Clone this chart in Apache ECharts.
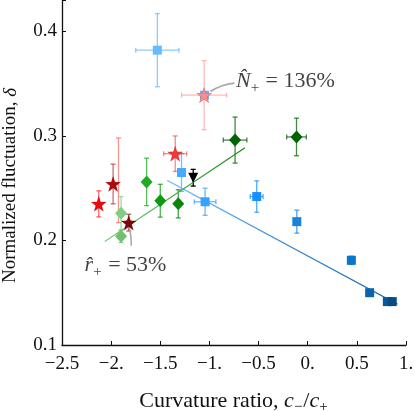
<!DOCTYPE html>
<html>
<head>
<meta charset="utf-8">
<script src="https://cdn.jsdelivr.net/npm/echarts@6/dist/echarts.min.js"></script>
<style>
  html, body { margin: 0; padding: 0; background: #fff; }
  #chart { width: 415px; height: 411px; }
</style>
</head>
<body>
<div id="chart"></div>
<script>
// blue squares
const squareX = [-1.53, -1.05, -1.284, -1.044, -0.519, -0.111, 0.444, 0.63, 0.81, 0.86];
const squareY = [0.382, 0.339, 0.265, 0.237, 0.242, 0.218, 0.181, 0.150, 0.1415, 0.1415];
const squareXErr = [0.22, 0, 0.03, 0.11, 0.065, 0.012, 0.01, 0.01, 0.01, 0.01];
const squareYErr = [0.035, 0, 0.018, 0.013, 0.015, 0.011, 0.004, 0.003, 0.002, 0.002];
// red stars
const starX = [-1.054, -1.348, -2.126, -1.98, -1.821];
const starY = [0.339, 0.283, 0.235, 0.254, 0.217];
const starXErr = [0.23, 0.117, 0, 0, 0.02];
const starYErr = [0.033, 0.017, 0.0125, 0.019, 0.008];
// faint red error bar (marker hidden)
const faintX = [-1.925];
const faintY = [0.2575];
const faintYErr = [0.0405];
// green diamonds
const diamondX = [-0.739, -0.114, -1.639, -1.5, -1.317, -1.899, -1.899];
const diamondY = [0.296, 0.299, 0.256, 0.238, 0.235, 0.226, 0.204];
const diamondXErr = [0.12, 0.1, 0, 0, 0, 0, 0];
const diamondYErr = [0.022, 0.018, 0.0227, 0.0157, 0.0135, 0.016, 0.006];
// black triangle
const triX = [-1.165];
const triY = [0.260];
const triYErr = [0.008];
// fit lines
const blueFitX = [-1.43, 0.914];
const blueFitY = [0.2575, 0.139];
const greenFitX = [-2.065, -0.638];
const greenFitY = [0.199, 0.2886];
// annotation leader lines
const nLeadX = [-0.99, -0.87, -0.745];
const nLeadY = [0.3425, 0.348, 0.3505];
const rLeadX = [-1.815, -1.8, -1.795];
const rLeadY = [0.212, 0.204, 0.195];
// tick labels
const xTickValues = [-2.5, -2, -1.5, -1, -0.5, 0, 0.5, 1];
const xTickLabels = ['\u22122.5', '\u22122.', '\u22121.5', '\u22121.', '\u22120.5', '0.', '0.5', '1.'];
const yTickValues = [0.1, 0.2, 0.3, 0.4];
const yTickLabels = ['0.1', '0.2', '0.3', '0.4'];

const squareColors = ['#66bbff', '#66bbff', '#44aaff', '#33a3ff', '#1a90ff', '#1a84dc', '#0a76c8', '#0a64ad', '#08589a', '#064a84'];
const starColors = ['#ff8a8a', '#ee3a3a', '#ee0a0a', '#b00a0a', '#7a0a0a'];
const diamondColors = ['#006400', '#006400', '#22aa22', '#129912', '#0a850a', '#80cf80', '#70c070'];

const FONT = 'Liberation Serif';
const starPath = 'path://M0,-10L2.35,-3.24L9.51,-3.09L3.8,1.24L5.88,8.09L0,4L-5.88,8.09L-3.8,1.24L-9.51,-3.09L-2.35,-3.24Z';

function errorSeries(xs, ys, xe, ye, colors, opacity) {
  return {
    type: 'custom',
    z: 2,
    silent: true,
    data: xs.map((x, i) => [x, ys[i], xe[i], ye[i]]),
    encode: { x: 0, y: 1 },
    renderItem: function (params, api) {
      const x = api.value(0), y = api.value(1), dx = api.value(2), dy = api.value(3);
      const col = colors[params.dataIndex];
      const style = { stroke: col, lineWidth: 1.3, opacity: opacity };
      const kids = [];
      const cap = 2.5;
      if (dy > 0) {
        const t = api.coord([x, y + dy]), b = api.coord([x, y - dy]);
        kids.push({ type: 'line', shape: { x1: t[0], y1: t[1], x2: b[0], y2: b[1] }, style: style });
        kids.push({ type: 'line', shape: { x1: t[0] - cap, y1: t[1], x2: t[0] + cap, y2: t[1] }, style: style });
        kids.push({ type: 'line', shape: { x1: b[0] - cap, y1: b[1], x2: b[0] + cap, y2: b[1] }, style: style });
      }
      if (dx > 0) {
        const l = api.coord([x - dx, y]), r = api.coord([x + dx, y]);
        kids.push({ type: 'line', shape: { x1: l[0], y1: l[1], x2: r[0], y2: r[1] }, style: style });
        kids.push({ type: 'line', shape: { x1: l[0], y1: l[1] - cap, x2: l[0], y2: l[1] + cap }, style: style });
        kids.push({ type: 'line', shape: { x1: r[0], y1: r[1] - cap, x2: r[0], y2: r[1] + cap }, style: style });
      }
      return { type: 'group', children: kids };
    }
  };
}

function markerSeries(xs, ys, colors, symbol, size, extra) {
  return Object.assign({
    type: 'scatter',
    z: 4,
    symbol: symbol,
    symbolSize: size,
    data: xs.map((x, i) => ({ value: [x, ys[i]], itemStyle: { color: colors[i], opacity: 1 } }))
  }, extra || {});
}

function gradientLine(xs, ys, c1, c2) {
  return {
    type: 'line',
    z: 3,
    symbol: 'none',
    data: xs.map((x, i) => [x, ys[i]]),
    lineStyle: {
      width: 1.3,
      color: { type: 'linear', x: 0, y: 0, x2: 1, y2: 0, colorStops: [{ offset: 0, color: c1 }, { offset: 1, color: c2 }] }
    }
  };
}

function leader(xs, ys) {
  return {
    type: 'line',
    z: 3,
    symbol: 'none',
    smooth: true,
    data: xs.map((x, i) => [x, ys[i]]),
    lineStyle: { width: 1.6, color: '#a8a8a8' }
  };
}

function richFor(size) {
  const sub = Math.round(size * 0.68);
  return {
    i: { fontFamily: FONT, fontStyle: 'italic', fontSize: size, color: '#111' },
    s: { fontFamily: FONT, fontSize: sub, color: '#111', padding: [Math.round(size * 0.6), 1, 0, 0] },
    n: { fontFamily: FONT, fontSize: size, color: '#111' }
  };
}

const chart = echarts.init(document.getElementById('chart'));
chart.setOption({
  animation: false,
  backgroundColor: '#fff',
  grid: { left: 62, right: 9, top: 0, bottom: 66, outerBoundsMode: 'none', containLabel: false },
  xAxis: {
    type: 'value',
    min: -2.5,
    max: 1,
    interval: 0.5,
    splitLine: { show: false },
    axisLine: { onZero: false, lineStyle: { color: '#111', width: 1.3 } },
    axisTick: { inside: true, length: 4, lineStyle: { color: '#111' } },
    axisLabel: {
      margin: 10,
      fontFamily: FONT,
      fontSize: 19,
      color: '#111',
      formatter: v => { const k = xTickValues.findIndex(t => Math.abs(t - v) < 1e-6); return k < 0 ? '' : xTickLabels[k]; }
    },
    name: 'Curvature ratio, {i|c}{s|\u2212}{n|/}{i|c}{s|+}',
    nameLocation: 'middle',
    nameGap: 42,
    nameTextStyle: { fontFamily: FONT, fontSize: 22, color: '#111', rich: richFor(22) }
  },
  yAxis: {
    type: 'value',
    min: 0.1,
    max: 0.43,
    interval: 0.1,
    splitLine: { show: false },
    axisLine: { onZero: false, lineStyle: { color: '#111', width: 1.3 } },
    axisTick: { inside: true, length: 4, lineStyle: { color: '#111' } },
    axisLabel: {
      margin: 5,
      fontFamily: FONT,
      fontSize: 19,
      color: '#111',
      formatter: v => { const k = yTickValues.findIndex(t => Math.abs(t - v) < 1e-6); return k < 0 ? '' : yTickLabels[k]; }
    },
    name: 'Normalized fluctuation, {i|\u03b4}',
    nameLocation: 'middle',
    nameGap: 42,
    nameTextStyle: {
      fontFamily: FONT, fontSize: 19, color: '#111', padding: [0, 26, 0, 0],
      rich: { i: { fontFamily: FONT, fontStyle: 'italic', fontSize: 19, color: '#111' } }
    }
  },
  series: [
    errorSeries(faintX, faintY, [0], faintYErr, ['#f07070'], 0.75),
    errorSeries(squareX, squareY, squareXErr, squareYErr, squareColors, 0.75),
    errorSeries(starX, starY, starXErr, starYErr, starColors, 0.6),
    errorSeries(diamondX, diamondY, diamondXErr, diamondYErr, diamondColors, 0.75),
    errorSeries(triX, triY, [0], triYErr, ['#000'], 1),
    gradientLine(blueFitX, blueFitY, '#7cc4ff', '#0a5aa0'),
    gradientLine(greenFitX, greenFitY, '#7fd07f', '#1a8a1a'),
    leader(nLeadX, nLeadY),
    leader(rLeadX, rLeadY),
    markerSeries(squareX, squareY, squareColors, 'rect', 9),
    markerSeries(diamondX, diamondY, diamondColors, 'diamond', [12, 13]),
    markerSeries(starX, starY, starColors, starPath, 15, { itemStyle: { borderColor: 'rgba(90,0,0,0.35)', borderWidth: 0.5 } }),
    markerSeries(triX, triY, ['#000'], 'triangle', 10, { symbolRotate: 180 }),
    {
      type: 'scatter', z: 5, symbolSize: 0, silent: true,
      data: [[-0.73, 0.352]],
      label: { show: true, position: 'right', distance: 0, formatter: '{i|N\u0302}{s|+}{n| = 136%}', rich: richFor(22) }
    },
    {
      type: 'scatter', z: 5, symbolSize: 0, silent: true,
      data: [[-2.27, 0.176]],
      label: { show: true, position: 'right', distance: 0, formatter: '{i|r\u0302}{s|+}{n| = 53%}', rich: richFor(22) }
    }
  ]
});
</script>
</body>
</html>
